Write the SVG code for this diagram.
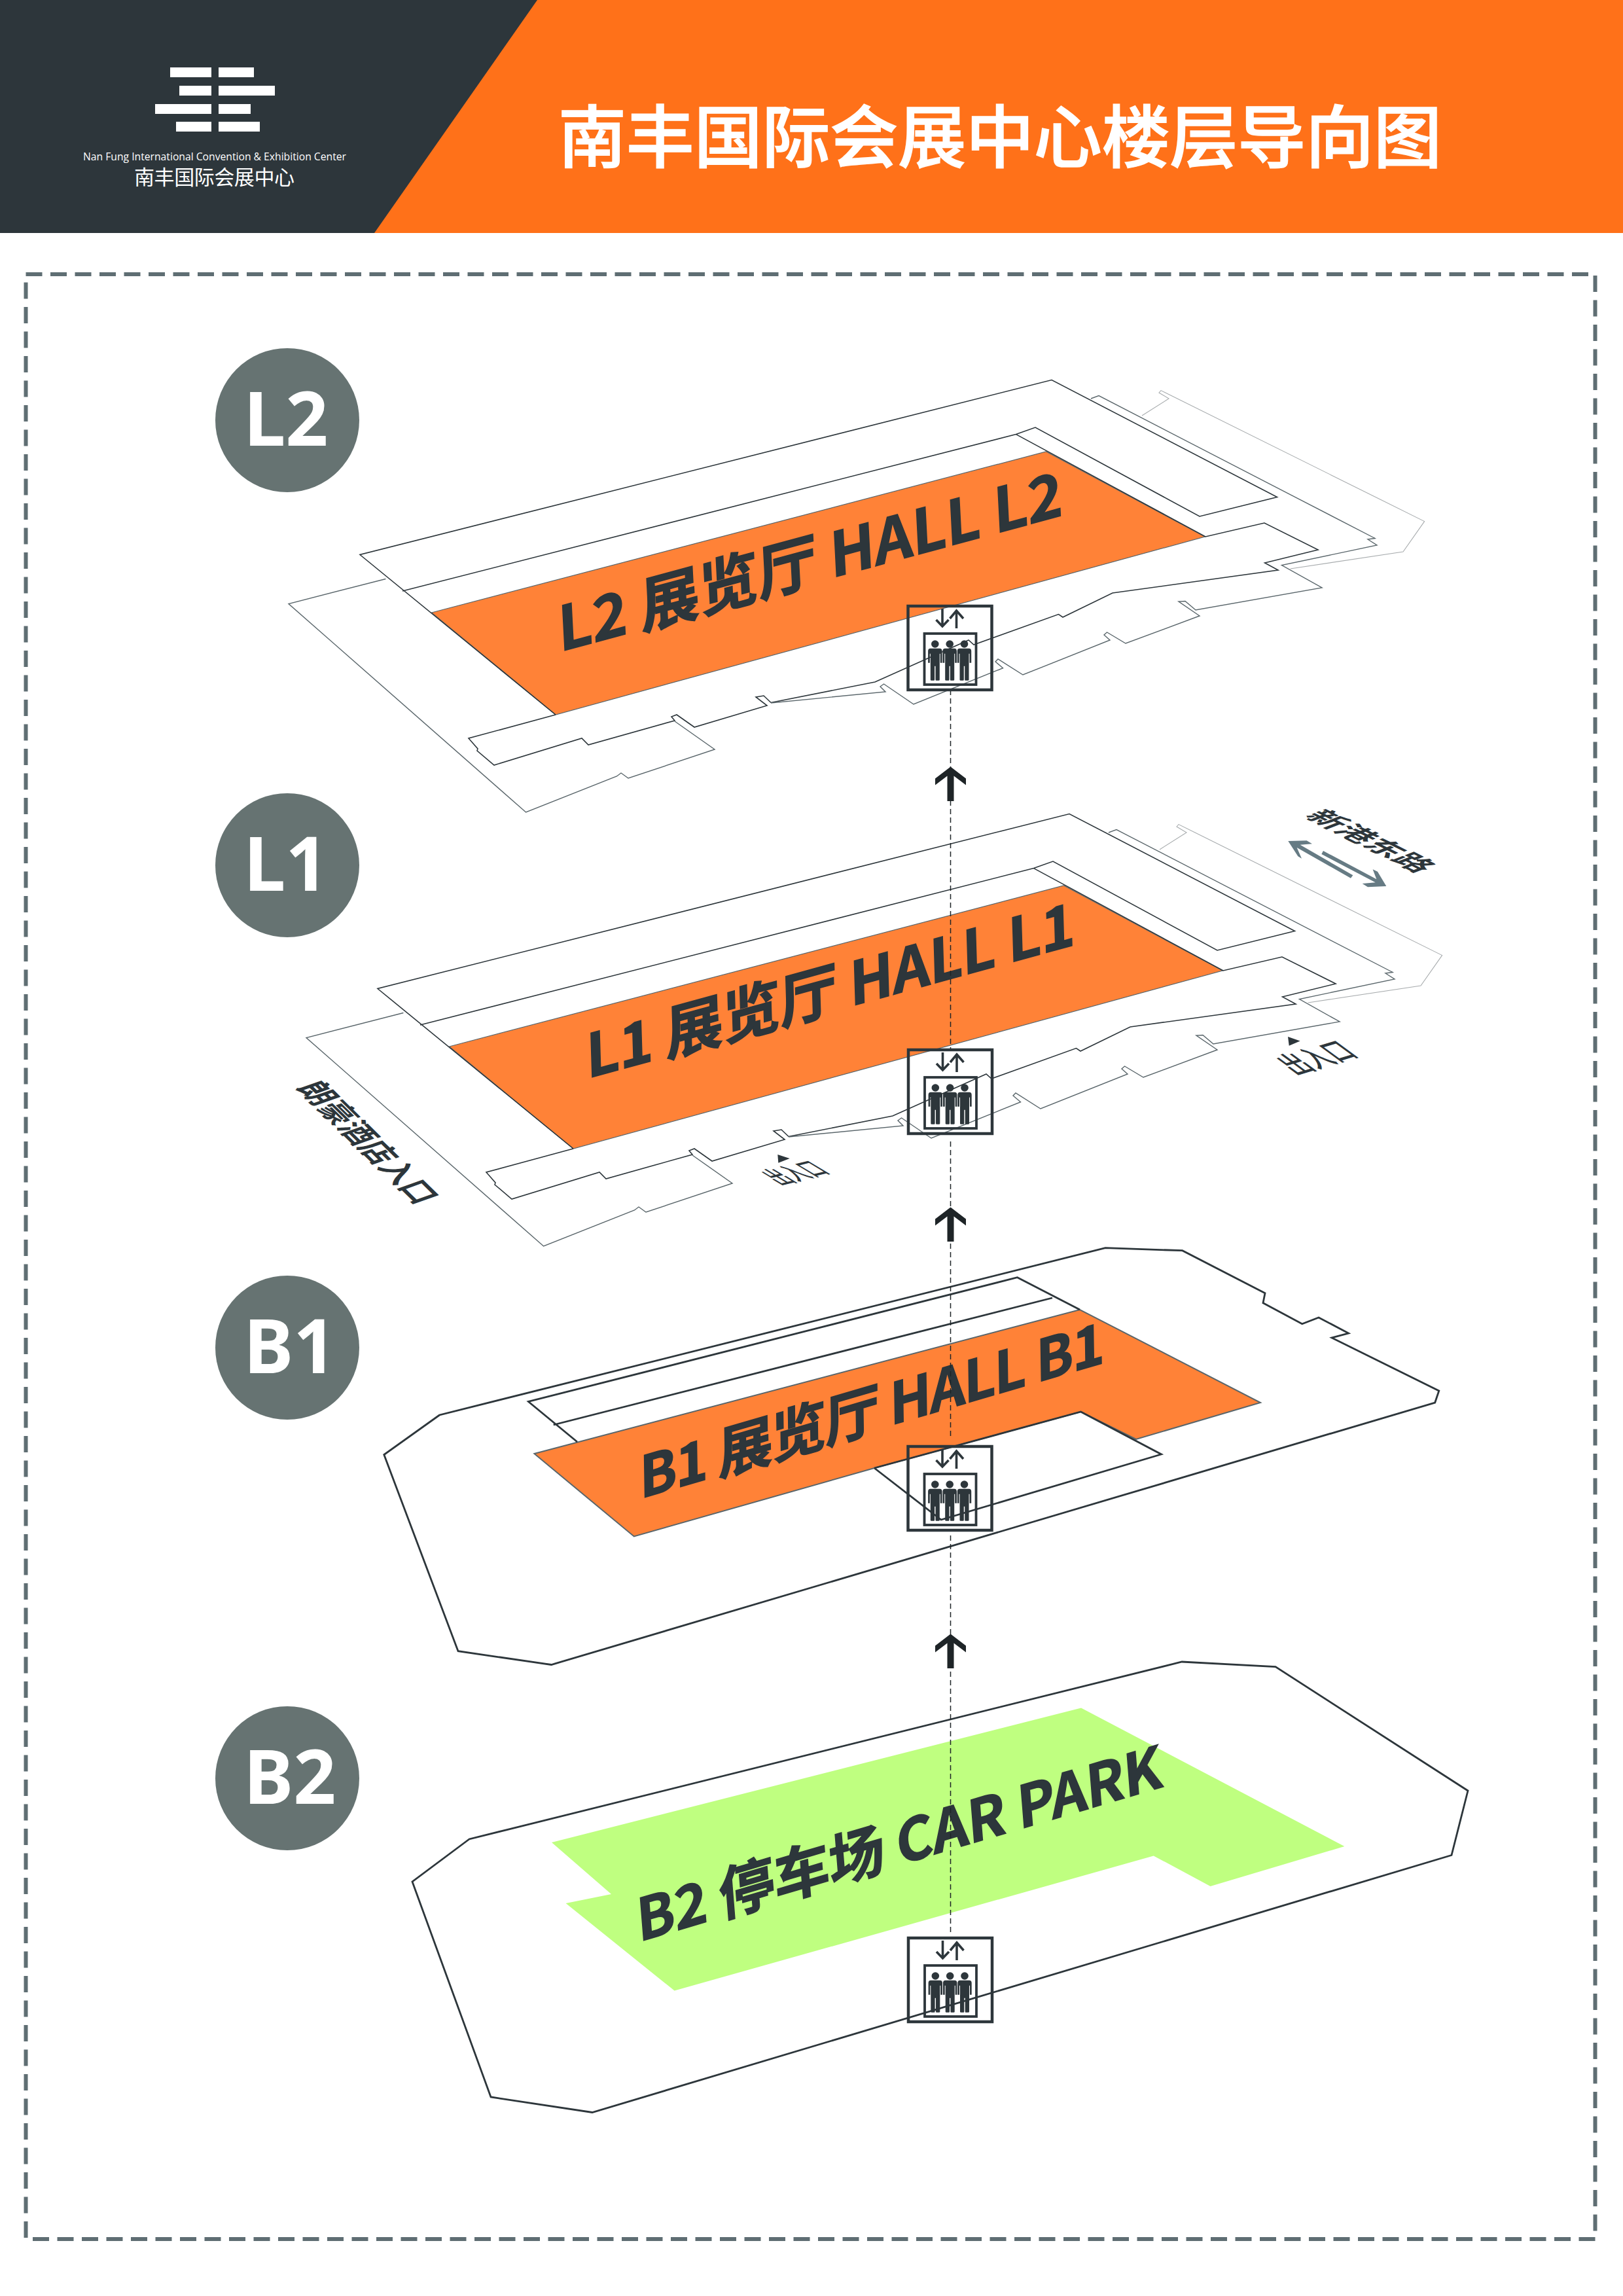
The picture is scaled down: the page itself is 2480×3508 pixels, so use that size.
<svg xmlns="http://www.w3.org/2000/svg" xmlns:xlink="http://www.w3.org/1999/xlink" width="2480" height="3508" viewBox="0 0 2480 3508">
<style>
.cjk{font-family:"Noto Sans CJK SC","Noto Sans",sans-serif}
.hall{font-family:"Noto Sans CJK SC","Noto Sans",sans-serif;font-weight:700;fill:#2d363b;stroke:#2d363b;stroke-width:1.6}
.small{font-family:"Noto Sans CJK SC",sans-serif;fill:#2d363b}
.badge{fill:#667372}
.badgeT{font-family:"Noto Sans","Open Sans",sans-serif;font-weight:700;font-size:114px;fill:#fff;text-anchor:middle}
.d{fill:none;stroke:#2d363b;stroke-width:1.6;stroke-linejoin:miter}
.g{fill:none;stroke:#5a666b;stroke-width:1.4}
.l{fill:none;stroke:#a8acae;stroke-width:1.1}
.b{fill:none;stroke:#2d363b;stroke-width:2.8}
.ev{fill:none;stroke:#2d363b}
.shaft{fill:none;stroke:#1e2427;stroke-width:1.5;stroke-dasharray:8 5}
.hf{fill:#ff8237}
.tri{fill:#2d363b}
</style>
<defs>
<g id="person"><path fill="#2d363b" d="M-7,0H7Q10.7,0 10.7,4V22H8V8H7V48Q7,49 5.5,49H1.8Q.7,49 .7,47.5V27H-.7V47.5Q-.7,49 -1.8,49H-5.5Q-7,49 -7,48V8H-8V22H-10.7V4Q-10.7,0 -7,0Z"/></g>
<g id="elev">
<rect class="ev" stroke-width="4.5" x="0" y="0" width="128" height="128"/>
<rect class="ev" stroke-width="3.8" x="25" y="42" width="79" height="78"/>
<path class="ev" stroke-width="3.6" d="M52.5,4V31M43,21L52.5,31L62,21M74,34V7M64,19L74,7L84.500,19"/>
<g fill="#2d363b"><circle cx="41.300" cy="58" r="5.800"/><circle cx="63.700" cy="58" r="5.800"/><circle cx="86" cy="58" r="5.800"/></g>
<use href="#person" x="41.300" y="64.700"/><use href="#person" x="63.700" y="64.700"/><use href="#person" x="86" y="64.700"/>
</g>
<path id="upArrow" fill="#1e2427" d="M1452.500,1171.500L1476,1189.500V1199.500L1457.500,1185.500V1224H1447.500V1185.500L1429,1199.500V1189.500Z"/>
<g id="plan">
<path class="hf" stroke="#5a666b" stroke-width="1.2" d="M659.500,936L1598.500,690L1841,820L849,1092Z"/>
<path class="d" d="M849,1092L550,847.500L1607,580.500L1951.500,759.500L1833,789L1582,653L1552.600,663.600L615,903"/>
<path class="d" d="M1552.600,663.600L1842,820L1932,799L2014,840L1932.600,860L1953,871L1700,906L1624,943L1617.500,938.600L1488,985L1480,978L1337,1042L1178,1073.500"/>
<path class="d" d="M849,1092L716,1128L730,1144L729,1147L755,1169L889,1128L899,1138L1031,1101L1026,1095L1034,1092L1061,1111L1172,1078L1155,1065L1167,1063L1178,1073.500"/>
<path class="g" d="M1178,1074L1353,1057L1345,1049L1350.500,1045L1396,1076L1532.500,1020.700L1521,1011L1525,1007L1563,1031L1696,978L1687,970L1691.500,966L1720,983L1833,941L1801,919L1811,918.500L1827,932L2020,898L1958.500,863.600L2104,833L2090,824L2101,822.500L1679,604.600L1667,609"/>
<path class="g" d="M589.400,884.500L441,922.500L803.600,1241L942.500,1186L949,1181L960,1189L1092,1145L1031,1102"/>
<path class="l" d="M1745,635L1786,609L1771,600L1774,596.600L2176.600,796.600L2144,843L1971.600,869"/>
</g>
</defs>
<rect width="2480" height="3508" fill="#fff"/>
<g id="header">
<rect width="2480" height="356" fill="#ff7119"/>
<path d="M0,0H821L572,356H0Z" fill="#2d363b"/>
<g fill="#fff">
<rect x="260" y="103" width="63" height="15"/><rect x="334" y="103" width="54" height="15"/>
<rect x="274" y="131" width="49" height="15"/><rect x="334" y="131" width="86" height="15"/>
<rect x="237" y="159" width="86" height="15"/><rect x="334" y="159" width="49" height="15"/>
<rect x="269" y="186" width="54" height="15"/><rect x="334" y="186" width="63" height="15"/>
</g>
<text x="127" y="245" font-family="Open Sans,sans-serif" font-size="16" fill="#fff" textLength="402" lengthAdjust="spacingAndGlyphs">Nan Fung International Convention &amp; Exhibition Center</text>
<text class="cjk" x="205" y="282" font-size="31" fill="#fff" textLength="245">南丰国际会展中心</text>
<text class="cjk" x="853" y="248" font-size="104" font-weight="500" fill="#fff" stroke="#fff" stroke-width="1.6" textLength="1350">南丰国际会展中心楼层导向图</text>
</g>
<rect id="frame" x="39.500" y="419" width="2398" height="3002" fill="none" stroke="#5f6e73" stroke-width="6" stroke-dasharray="25 12.500"/>

<g id="floor-L2">
<use href="#plan"/>
<text class="hall" transform="matrix(.965,-.262,.052,.999,855,996)" font-size="93" textLength="798">L2 展览厅 HALL L2</text>
</g>
<g id="floor-L1">
<use href="#plan" transform="translate(27,663)"/>
<text class="hall" transform="matrix(.9644,-.2643,.03,1,897,1648)" font-size="91" textLength="774">L1 展览厅 HALL L1</text>
</g>
<g id="floor-B1">
<path class="b" d="M671.600,2162L586.800,2222.600L700,2522.700L842.500,2543.500L2192.700,2143L2198.800,2125L2035,2044L2060.600,2037L2015,2013L1989.700,2022.700L1930,1990.700L1933,1975.700L1806.700,1910.700L1689,1906.700Z"/>
<path class="hf" stroke="#5a666b" stroke-width="2" d="M816.400,2221L1650,2001L1926,2143L1736,2199L1651.500,2157L1336,2243L968.800,2347.500Z"/>
<path class="b" d="M882,2203L807.400,2141.500L1554.500,1951.700L1650,2001M845.700,2177L1608,1983M1336,2243L1438,2322L1774.500,2222L1651.500,2157L1336,2243"/>
<text class="hall" transform="matrix(.9597,-.2812,.016,1,978,2290)" font-size="87" textLength="740">B1 展览厅 HALL B1</text>
</g>
<g id="floor-B2">
<path class="b" d="M717,2810L630,2875L750,3204L905,3227.500L2218,2834.500L2243,2736L1949,2546.600L1806,2539Z"/>
<path fill="#bfff80" d="M843,2815L1652,2609.500L2054.400,2821L1849.500,2882L1762.700,2835.400L1030.600,3041.600L864.600,2908L934,2894Z"/>
<text class="hall" transform="matrix(.9589,-.2838,.08,1,976,2967)" font-size="88" textLength="836">B2 停车场 CAR PARK</text>
</g>

<g id="badge-L2"><circle class="badge" cx="439" cy="642" r="110"/><text class="badgeT" x="437" y="681">L2</text></g>
<g id="badge-L1"><circle class="badge" cx="439" cy="1322" r="110"/><text class="badgeT" x="437" y="1361">L1</text></g>
<g id="badge-B1"><circle class="badge" cx="439" cy="2059" r="110"/><text class="badgeT" x="443" y="2098">B1</text></g>
<g id="badge-B2"><circle class="badge" cx="439" cy="2717" r="110"/><text class="badgeT" x="443" y="2756">B2</text></g>

<g id="labels">
<text class="small" font-weight="700" transform="matrix(.894,.447,-.85,.33,1992,1247)" font-size="49">新港东路</text>
<g id="road-arrows" transform="translate(1940,1200) scale(.3333)" fill="#667b84">
<path d="M85,255L170,253L195,268L140,272L382,412L372,425L125,285L147,335L130,325Z"/>
<path d="M535,462L450,466L425,450L485,445L238,315L246,300L490,430L473,385L495,395Z"/>
</g>
<text class="small" font-weight="700" transform="matrix(.715,.7,-1.13,.4,452.800,1661.500)" font-size="43">朗豪酒店入口</text>
<path class="tri" d="M1188.300,1764L1206.700,1770L1189.300,1776.700Z"/>
<text class="small" font-weight="500" transform="matrix(.97,-.24,1.6,.96,1192,1811)" font-size="26.500">出入口</text>
<path class="tri" d="M1968,1584L1986.700,1590.400L1969.700,1597.700Z"/>
<text class="small" font-weight="500" transform="matrix(.957,-.29,1.3,.95,1979.500,1642.800)" font-size="34">出入口</text>
</g>

<g id="connectors">
<path class="shaft" d="M1452.500,1054V1603M1452.500,1744V2199M1452.500,2346V2954"/>
<use href="#upArrow"/>
<use href="#upArrow" y="673"/>
<use href="#upArrow" y="1325"/>
</g>
<g id="lift-L2"><use href="#elev" x="1387.500" y="926"/></g>
<g id="lift-L1"><use href="#elev" x="1388" y="1604"/></g>
<g id="lift-B1"><use href="#elev" x="1387.500" y="2210"/></g>
<g id="lift-B2"><use href="#elev" x="1388" y="2961"/></g>
</svg>
